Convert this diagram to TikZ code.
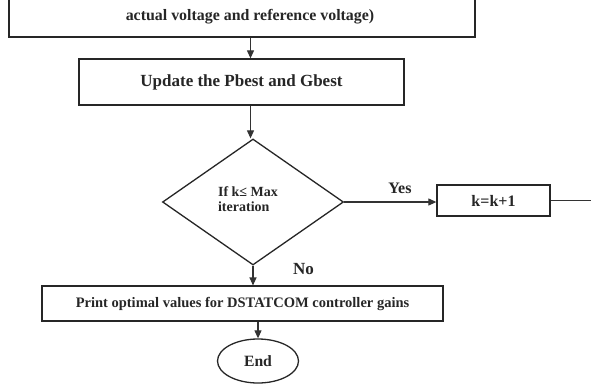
\documentclass[tikz,border=0pt]{standalone}
\usepackage{fontspec}
\setmainfont{Liberation Serif}
\usetikzlibrary{shapes.geometric,arrows.meta}
\newcommand{\fsz}[1]{\bfseries\fontsize{#1}{#1}\selectfont}
\begin{document}
\begin{tikzpicture}[x=1pt,y=-1pt,
  every node/.style={font=\fsz{14.5}, text=black!85},
  box/.style={draw=black!85, line width=1.3pt, rectangle, inner sep=0pt},
  conn/.style={draw=black!80, line width=1.1pt, -{Triangle[length=8pt,width=7pt]}},
  plain/.style={draw=black!80, line width=1pt},
  lbl/.style={inner sep=0pt}]
\clip (0,0) rectangle (591,383);
\fill[white] (0,0) rectangle (591,383);
% top box (cut off)
\node[box, line width=1.8pt, minimum width=466pt, minimum height=60pt, anchor=south west] (top) at (8,38) {};
\node[lbl, font=\fsz{15.9}] (toptext) at (250,17) {actual voltage and reference voltage)};
% update box
\node[box, minimum width=325pt, minimum height=46pt, font=\fsz{17}] (upd) at (241.5,82) {Update the Pbest and Gbest};
% diamond
\node[draw=black!85, line width=1.3pt, diamond, minimum width=181pt, minimum height=126pt, inner sep=0pt] (dec) at (253,202) {};
\node[lbl, align=left, font=\bfseries\fontsize{14}{15.5}\selectfont] (dectext) at (248,199) {If k≤ Max\\iteration};
% k=k+1 box
\node[box, minimum width=113pt, minimum height=31pt, font=\fsz{16}] (inc) at (493.5,200.5) {k=k+1};
\coordinate (exit) at (591,200.5);
% print box
\node[box, line width=1.1pt, minimum width=401pt, minimum height=35pt] (prt) at (242.5,303.5) {Print optimal values for DSTATCOM controller gains};
% end ellipse
\node[draw=black!85, line width=1.3pt, ellipse, minimum width=81pt, minimum height=44pt, inner sep=0pt, font=\fsz{15.7}] (end) at (258,361) {End};
% connectors
\draw[conn] (top.south -| upd.north) ++(9,0) coordinate (a1) -- (a1 |- upd.north);
\draw[conn] (upd.south) ++(9,0) coordinate (a2) -- (a2 |- dec.north);
\draw[conn] (dec.east) -- (dec.east -| inc.west);
\draw[plain] (inc.east) -- (exit);
\draw[conn] (dec.south) -- (dec.south |- prt.north);
\draw[conn] (end.north |- prt.south) -- (end.north);
% labels
\node[lbl, font=\fsz{16}] (yes) at (400,188) {Yes};
\node[lbl, font=\fsz{17}] (no) at (303.5,269) {No};
\end{tikzpicture}
\end{document}
